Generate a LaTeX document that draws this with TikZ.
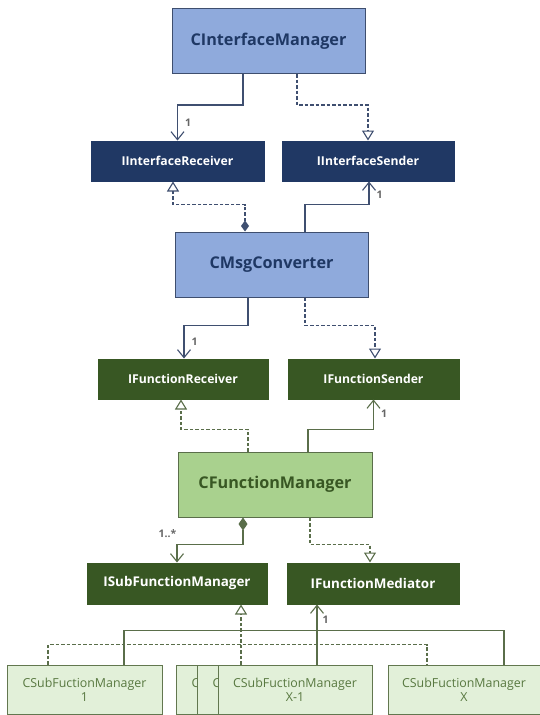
\documentclass[tikz,border=0pt]{standalone}
\usepackage{fontspec}
\setmainfont{Open Sans}
\usetikzlibrary{arrows.meta}
\definecolor{bluefill}{HTML}{8FAADC}
\definecolor{bluedraw}{HTML}{3E4E6E}
\definecolor{navy}{HTML}{203864}
\definecolor{navytext}{HTML}{1F3864}
\definecolor{navyline}{HTML}{3F4F70}
\definecolor{darkgreen}{HTML}{385723}
\definecolor{lightgreen}{HTML}{A9D18E}
\definecolor{palegreen}{HTML}{E2F0D9}
\definecolor{subtext}{HTML}{587840}
\definecolor{subdraw}{HTML}{62774F}
\definecolor{greenline}{HTML}{5A6E4A}
\definecolor{labgray}{HTML}{666666}
\begin{document}
\begin{tikzpicture}[x=1pt,y=-1pt,
  box/.style={draw, inner sep=0pt, line width=1pt, align=center},
  bcls/.style={box, fill=bluefill, draw=bluedraw, text=navytext,
    font=\bfseries\fontsize{16.2}{19}\selectfont, minimum width=193pt, minimum height=65pt},
  bint/.style={box, fill=navy, draw=navy, text=white,
    font=\bfseries\fontsize{12.2}{15}\selectfont, minimum height=40pt},
  gcls/.style={box, fill=lightgreen, draw=greenline, text=darkgreen,
    font=\bfseries\fontsize{16.2}{19}\selectfont, minimum width=194pt, minimum height=65pt},
  gint/.style={box, fill=darkgreen, draw=darkgreen, text=white,
    font=\bfseries\fontsize{12.2}{15}\selectfont, minimum height=40pt},
  gint2/.style={gint, font=\bfseries\fontsize{13.4}{16}\selectfont, minimum height=41pt},
  sub/.style={box, fill=palegreen, draw=subdraw, text=subtext,
    font=\fontsize{12.4}{14}\selectfont, minimum width=155pt, minimum height=49pt},
  nline/.style={draw=navyline, line width=1.1pt},
  gline/.style={draw=greenline, line width=1.1pt},
  dsh/.style={dash pattern=on 3.5pt off 2pt},
  tri/.tip={Triangle[open,length=10pt,width=12pt,line width=1.1pt,fill=white]},
  barb/.tip={Straight Barb[length=8pt,width=13pt,line width=1.1pt]},
  assoc/.style={-barb},
  real/.style={dsh, -tri},
  lab/.style={font=\bfseries\fontsize{10.5}{12}\selectfont, text=labgray, inner sep=0pt, anchor=west}
]
\useasboundingbox (0,0) rectangle (540,715);
\clip (0,0) rectangle (540,715);
\fill[white] (0,0) rectangle (540,715);

% nodes
\node[bcls] (cim) at (268.5,41) {CInterfaceManager};
\node[bint, minimum width=173pt] (iir) at (177.5,161) {IInterfaceReceiver};
\node[bint, minimum width=172pt] (iis) at (368,161) {IInterfaceSender};
\node[bcls] (cmc) at (271.5,264.5) {CMsgConverter};
\node[gint, minimum width=170pt] (ifr) at (183,379) {IFunctionReceiver};
\node[gint, minimum width=171pt] (ifs) at (373.5,379) {IFunctionSender};
\node[gcls] (cfm) at (275,484.5) {CFunctionManager};
\node[gint2, minimum width=180pt] (isf) at (177,583.5) {ISubFunctionManager};
\node[gint2, minimum width=172pt] (ifm) at (373,583.5) {IFunctionMediator};

\node[sub] (cs1) at (84.5,689.5) {CSubFuctionManager\\1};
\node[sub] (csa) at (253.5,689.5) {CSubFuctionManager\\\mbox{}};
\node[sub] (csb) at (274.5,689.5) {CSubFuctionManager\\\mbox{}};
\node[sub, minimum width=154pt] (csc) at (295,689.5) {CSubFuctionManager\\X-1};
\node[sub, minimum width=152pt] (csx) at (464,689.5) {CSubFuctionManager\\X};

% top level
\draw[nline, assoc] ([xshift=-25.5]cim.south) -- ++(0,31) -| (iir.north)
  node[lab, pos=0.75, xshift=7pt] (l1) {1};
\draw[nline, real] ([xshift=28.5]cim.south) -- ++(0,31) -| (iis.north);

% CMsgConverter up
\draw[nline, dsh, {Diamond[length=11pt,width=8pt]}-tri]
  ([xshift=-26.5]cmc.north) -- ++(0,-27) -| ([xshift=-4.5]iir.south);
\draw[nline, assoc] ([xshift=33.5]cmc.north) -- ++(0,-27) -| ([xshift=1]iis.south)
  node[lab, pos=0.72, xshift=7pt] (l2) {1};

% CMsgConverter down
\draw[nline, assoc] ([xshift=-23.5]cmc.south) -- ++(0,28) -| ([xshift=1]ifr.north)
  node[lab, pos=0.75, xshift=7pt] (l3) {1};
\draw[nline, real] ([xshift=33.5]cmc.south) -- ++(0,28) -| ([xshift=1.5]ifs.north);

% CFunctionManager up
\draw[gline, real] ([xshift=-27]cfm.north) -- ++(0,-22) -| ([xshift=-2]ifr.south);
\draw[gline, assoc] ([xshift=33]cfm.north) -- ++(0,-22) -| (ifs.south)
  node[lab, pos=0.77, xshift=7pt] (l4) {1};

% CFunctionManager down
\draw[gline, {Diamond[length=13pt,width=9pt]}-barb]
  ([xshift=-32]cfm.south) -- ++(0,27) -| (isf.north)
  node[lab, pos=0.5, anchor=south east, yshift=6pt] (l5) {1..*};
\draw[gline, real] ([xshift=35]cfm.south) -- ++(0,27) -| ([xshift=-3]ifm.north);

% sub managers
\draw[gline, dsh] ([xshift=-36.5]cs1.north) -- ++(0,-20) -| ([xshift=-37]csx.north);
\draw[gline] ([xshift=39.5]cs1.north) -- ++(0,-34) -| ([xshift=40]csx.north);
\draw[gline, real] ([xshift=-54]csc.north) -- ([xshift=64]isf.south);
\draw[gline, assoc] ([xshift=22]csc.north) -- ([xshift=-56]ifm.south)
  node[lab, pos=0.75, xshift=5pt] (l6) {1};
\end{tikzpicture}
\end{document}
